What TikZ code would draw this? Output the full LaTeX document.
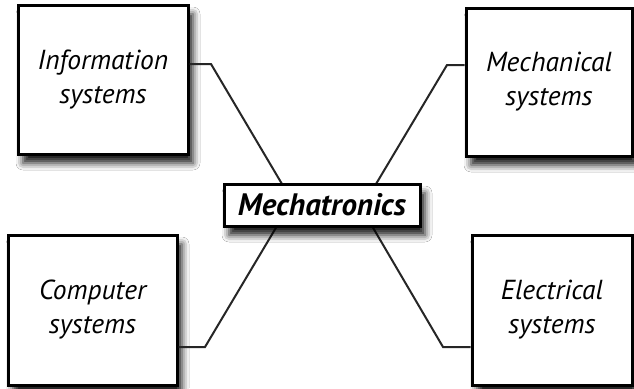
\documentclass[tikz,border=0pt]{standalone}
\usepackage{fontspec}
\setmainfont{PT Sans}
\usetikzlibrary{shadows.blur}
\tikzset{
  sysbox/.style={draw=black, line width=3pt, fill=white, align=center,
    font=\itshape\fontsize{27.5}{34}\selectfont, inner sep=0pt,
    blur shadow={shadow xshift=5pt, shadow yshift=-9pt, shadow blur radius=7pt, shadow opacity=90}},
  corebox/.style={draw=black, line width=3pt, fill=white, align=center,
    font=\bfseries\itshape\fontsize{31}{34}\selectfont, inner sep=0pt,
    blur shadow={shadow xshift=5pt, shadow yshift=-9pt, shadow blur radius=7pt, shadow opacity=90}},
  conn/.style={draw=black!85, line width=2pt}
}
\begin{document}
\begin{tikzpicture}[x=1pt,y=-1pt]
\useasboundingbox (0,0) rectangle (634,388);
\fill[white] (0,0) rectangle (634,388);
\node[sysbox, minimum width=170pt, minimum height=149pt] (info) at (103,79.5) {Information\\systems};
\node[sysbox, minimum width=166pt, minimum height=148pt] (mech) at (549,82) {Mechanical\\systems};
\node[sysbox, minimum width=169pt, minimum height=150pt] (comp) at (92.5,310) {Computer\\systems};
\node[sysbox, minimum width=160pt, minimum height=150pt] (elec) at (552,310) {Electrical\\systems};
\draw[conn] (info.east |- 0,64) -- (211,64) coordinate (ib) -- (282,184) coordinate (it);
\draw[conn] (mech.west |- 0,65) -- (447,65) coordinate (mb) -- (376,184) coordinate (mt);
\draw[conn] (comp.east |- 0,347) -- (205,347) coordinate (cb) -- (277,226) coordinate (ct);
\draw[conn] (elec.west |- 0,347) -- (443,347) coordinate (eb) -- (372,226) coordinate (et);
\node[corebox, minimum width=196pt, minimum height=42pt] (core) at (322,205) {Mechatronics};
\end{tikzpicture}
\end{document}
